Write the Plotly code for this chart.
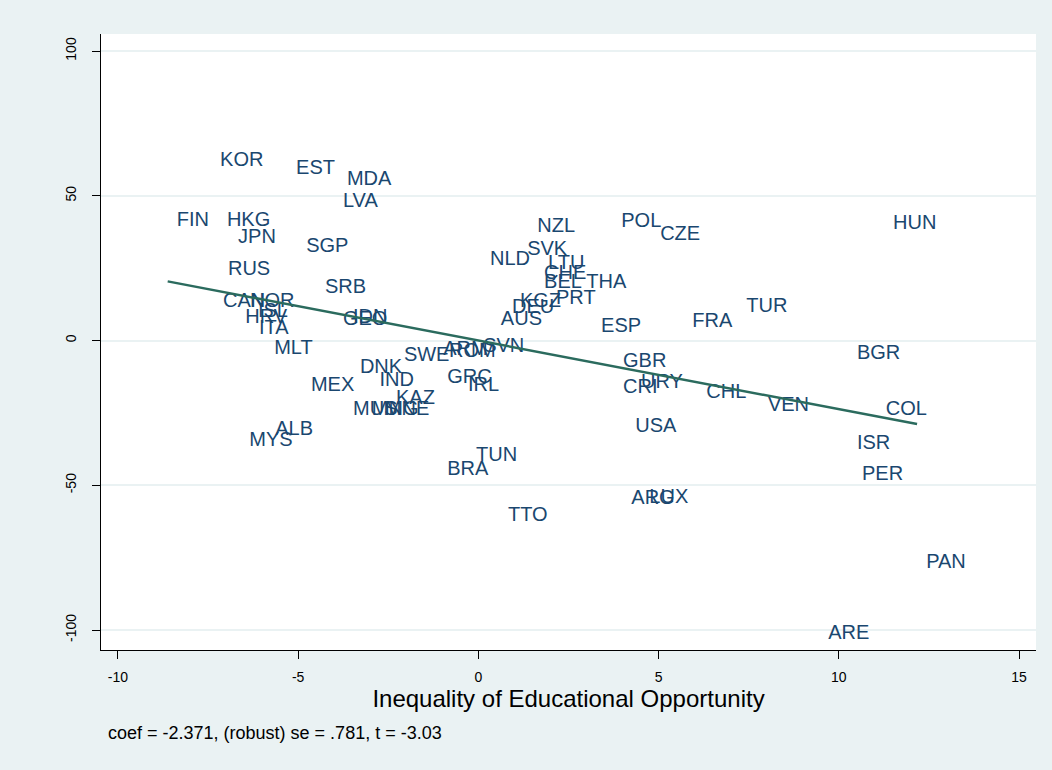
import plotly.graph_objects as go

# Country codes, residual x (educational inequality) and residual y
countries = ["KOR", "EST", "MDA", "LVA", "FIN", "HKG", "JPN", "SGP", "RUS", "SRB",
             "CAN", "NOR", "HRV", "ISL", "ITA", "MLT", "IDN", "GEO", "DNK", "SWE",
             "ARM", "ROM", "SVN", "IND", "MEX", "GRC", "IRL", "KAZ", "MUS", "MNG",
             "MNE", "ALB", "MYS", "TUN", "BRA", "TTO", "NZL", "SVK", "NLD", "LTU",
             "CHE", "BEL", "THA", "PRT", "KGZ", "DEU", "AUS", "ESP", "POL", "CZE",
             "FRA", "TUR", "HUN", "GBR", "CRI", "URY", "CHL", "VEN", "USA", "ARG",
             "LUX", "BGR", "COL", "ISR", "PER", "PAN", "ARE"]
x_resid = [-7.42, -5.31, -3.90, -4.01, -8.62, -7.23, -6.92, -5.03, -7.20, -4.51,
           -7.34, -6.59, -6.72, -6.37, -6.34, -5.92, -3.73, -4.01, -3.54, -2.32,
           -1.23, -1.07, -0.12, -3.00, -4.90, -1.12, -0.54, -2.54, -3.73, -3.21,
           -2.85, -5.89, -6.61, -0.32, -1.12, 0.57, 1.38, 1.10, 0.07, 1.68,
           1.57, 1.57, 2.74, 1.90, 0.90, 0.68, 0.37, 3.15, 3.71, 4.79,
           5.68, 7.18, 11.25, 3.76, 3.76, 4.26, 6.07, 7.78, 4.10, 3.99,
           4.49, 10.25, 11.05, 10.25, 10.39, 12.17, 9.45]
y_resid = [62.0, 59.2, 55.4, 47.8, 41.3, 41.3, 35.4, 32.3, 24.4, 18.1,
           13.3, 13.3, 7.8, 9.8, 4.0, -2.9, 7.8, 7.1, -9.5, -5.4,
           -3.3, -4.0, -2.2, -14.0, -15.7, -13.0, -15.7, -20.2, -24.0, -24.0,
           -24.0, -30.9, -34.7, -39.9, -44.7, -60.6, 39.2, 31.3, 27.8, 26.4,
           23.0, 19.9, 19.9, 14.3, 13.3, 11.2, 7.1, 4.7, 40.9, 36.4,
           6.4, 11.6, 40.2, -7.4, -16.4, -14.7, -18.1, -22.6, -29.9, -54.7,
           -54.4, -4.7, -24.0, -35.8, -46.5, -76.9, -101.4]

coef = -2.371
note_text = "coef = -2.371, (robust) se = .781, t = -3.03"
x_title = "Inequality of Educational Opportunity"
x_ticks = [-10, -5, 0, 5, 10, 15]
y_ticks = [-100, -50, 0, 50, 100]

navy = "#1A476F"
bg = "#EAF2F3"

xmin, xmax = min(x_resid), max(x_resid)
fit_x = [xmin, xmax]
fit_y = [coef * v for v in fit_x]

fig = go.Figure()
fig.add_trace(go.Scatter(
    x=x_resid, y=y_resid, text=countries, mode="markers+text",
    marker=dict(size=13, color="rgba(0,0,0,0)"),
    textposition="middle right",
    textfont=dict(family="Liberation Sans, Arial, sans-serif", size=20, color=navy),
    hoverinfo="text", showlegend=False,
))
fig.add_trace(go.Scatter(
    x=fit_x, y=fit_y, mode="lines",
    line=dict(color="#2B6B5E", width=2.5), showlegend=False,
))

fig.update_layout(
    width=1052, height=770,
    paper_bgcolor=bg, plot_bgcolor="white",
    margin=dict(l=101, r=16, t=34, b=120),
    font=dict(family="Liberation Sans, Arial, sans-serif", color="black"),
    xaxis=dict(
        range=[-10.47, 15.47], tickvals=x_ticks, ticktext=[str(v) for v in x_ticks],
        showgrid=False, zeroline=False, showline=True, linecolor="black", linewidth=1,
        ticks="outside", ticklen=8, tickcolor="black", tickwidth=1,
        tickfont=dict(size=14, color="black"), ticklabelstandoff=6,
        title=dict(text=x_title, font=dict(size=24, color="black"), standoff=4),
    ),
    yaxis=dict(
        range=[-106.9, 105.9], tickvals=y_ticks, ticktext=[str(v) for v in y_ticks],
        showgrid=True, gridcolor=bg, gridwidth=2, zeroline=False,
        showline=True, linecolor="black", linewidth=1,
        ticks="outside", ticklen=8, tickcolor="black", tickwidth=1,
        tickangle=-90, tickfont=dict(size=14, color="black"), ticklabelstandoff=10,
    ),
    annotations=[dict(
        text=note_text, xref="paper", yref="paper",
        x=(106 - 101) / (1052 - 101 - 16), y=-(733 - 650) / (770 - 34 - 120),
        xanchor="left", yanchor="middle", showarrow=False,
        font=dict(size=18, color="black"),
    )],
)

fig.write_html("out.html")
